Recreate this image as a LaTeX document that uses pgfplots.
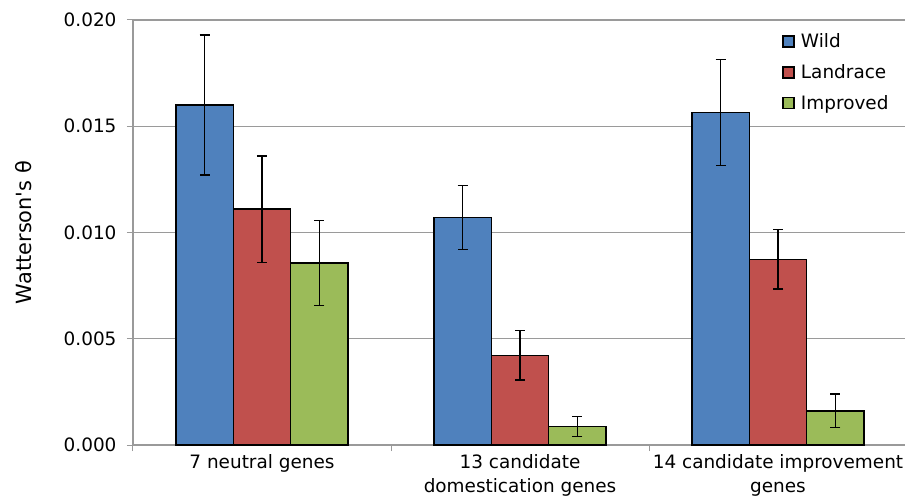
\documentclass[border=0pt]{standalone}
\usepackage{pgfplots}
\usepackage{pgfplotstable}
\pgfplotsset{compat=1.18}
\usepackage{fontspec}
\setmainfont{DejaVu Sans}
\definecolor{cwild}{HTML}{4F81BD}
\definecolor{cland}{HTML}{C0504D}
\definecolor{cimp}{HTML}{9BBB59}
\definecolor{cgrid}{HTML}{9A9A9A}
\pgfplotstableread{
x w we l le i ie
0 0.0160 0.0033 0.0111 0.0025 0.00856 0.0020
1 0.0107 0.0015 0.00422 0.00117 0.00086 0.00047
2 0.01565 0.0025 0.00874 0.0014 0.00161 0.00078
}\data
\begin{document}
\begin{tikzpicture}
\begin{axis}[
  scale only axis,
  width=774bp, height=425bp,
  xmin=-0.5, xmax=2.5,
  ymin=0, ymax=0.020,
  ybar=0pt,
  bar width=0.2225,
  ytick={0,0.005,0.010,0.015,0.020},
  scaled y ticks=false,
  yticklabel style={font=\fontsize{18.5}{21}\selectfont, xshift=-7bp, /pgf/number format/fixed, /pgf/number format/fixed zerofill, /pgf/number format/precision=3, /pgf/number format/assume math mode=true},
  xtick={0,1,2},
  xticklabels={7 neutral genes, {13 candidate\\domestication genes}, {14 candidate improvement\\genes}},
  xticklabel style={align=center, font=\fontsize{18.5}{24}\selectfont},
  minor xtick={-0.5,0.5,1.5},
  major x tick style={draw=none},
  tick align=outside,
  major tick length=6bp,
  minor tick length=6bp,
  tick style={cgrid, line width=1pt},
  axis x line*=bottom,
  axis y line*=left,
  axis line style={cgrid, line width=1.2pt},
  ymajorgrids,
  grid style={cgrid, line width=1.2pt},
  ylabel={Watterson\textquotesingle s θ},
  every axis y label/.style={at={(axis description cs:-0.1408,0.5)}, rotate=90, anchor=center, font=\fontsize{21}{24}\selectfont},
  legend style={at={(axis description cs:0.835,0.978)}, anchor=north west, draw=none, fill=none,
    font=\fontsize{18.5}{21}\selectfont, row sep=11.5bp,
    /tikz/every odd column/.append style={column sep=4bp}},
  legend cell align=left,
  legend image code/.code={\draw[#1, line width=1.5pt] (0bp,-5.5bp) rectangle (11bp,5.5bp);},
  error bars/y dir=both,
  error bars/y explicit,
  error bars/error bar style={black, line width=1.5pt},
  error bars/error mark options={black, rotate=90, mark size=5bp, line width=1.5pt},
]
\coordinate (SW) at (rel axis cs:0,0);
\addplot[fill=cwild, draw=black, line width=1.5pt]
  table[x=x, y=w, y error=we] {\data};
\addlegendentry{Wild}
\addplot[fill=cland, draw=black, line width=1.5pt]
  table[x=x, y=l, y error=le] {\data};
\addlegendentry{Landrace}
\addplot[fill=cimp, draw=black, line width=1.5pt]
  table[x=x, y=i, y error=ie] {\data};
\addlegendentry{Improved}
\end{axis}
\pgfresetboundingbox
\path (SW) ++(-133bp,-56bp) rectangle ++(905bp,501bp);
\end{tikzpicture}
\end{document}
